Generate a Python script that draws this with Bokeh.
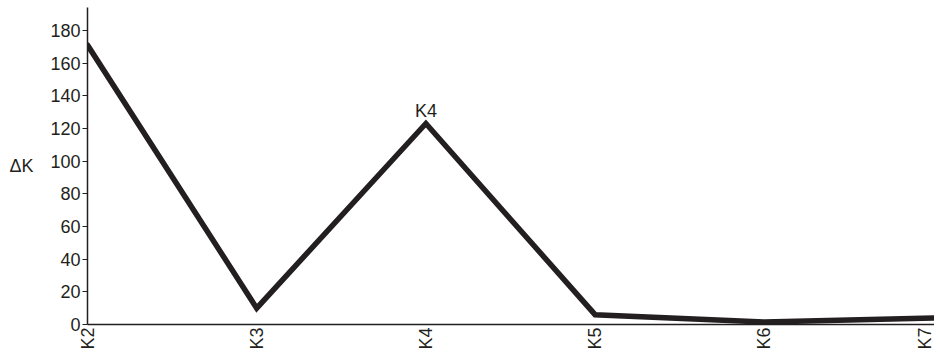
import math
from bokeh.plotting import figure
from bokeh.models import FixedTicker, Label, Range1d
from bokeh.embed import file_html
from bokeh.resources import INLINE

categories = ["K2", "K3", "K4", "K5", "K6", "K7"]
delta_k = [171, 10, 123, 6, 1.5, 4]
y_ticks = [0, 20, 40, 60, 80, 100, 120, 140, 160, 180]

INK = "#231f20"
FONT = "Liberation Sans"
FS = "18px"

xs = list(range(len(categories)))

p = figure(width=934, height=352, output_backend="svg", toolbar_location=None,
           x_range=Range1d(0, len(categories) - 1 + 0.006), y_range=Range1d(0, 194),
           min_border_left=87, min_border_right=0, min_border_top=7, min_border_bottom=27)
p.outline_line_color = None
p.grid.visible = False
p.background_fill_color = "white"
p.border_fill_color = "white"

p.line(xs, delta_k, line_color=INK, line_width=5.5, line_join="miter", line_cap="round")

# x axis
xa = p.xaxis[0]
xa.ticker = FixedTicker(ticks=xs)
xa.major_label_overrides = {i: c for i, c in enumerate(categories)}
xa.major_label_orientation = math.pi / 2
xa.major_tick_out = 0
xa.major_tick_in = 0
xa.minor_tick_out = 0
xa.minor_tick_in = 0
xa.major_label_standoff = 3
xa.axis_line_color = INK
xa.axis_line_width = 1.5
xa.major_label_text_font = FONT
xa.major_label_text_font_size = FS
xa.major_label_text_color = INK

# y axis
ya = p.yaxis[0]
ya.ticker = FixedTicker(ticks=y_ticks)
ya.major_tick_out = 5
ya.major_tick_in = 0
ya.minor_tick_out = 0
ya.minor_tick_in = 0
ya.major_label_standoff = 2
ya.axis_line_color = INK
ya.axis_line_width = 1.5
ya.major_tick_line_color = INK
ya.major_label_text_font = FONT
ya.major_label_text_font_size = FS
ya.major_label_text_color = INK

# y axis title, horizontal
ya.axis_label = "ΔK"
ya.axis_label_text_font = FONT
ya.axis_label_text_font_size = FS
ya.axis_label_text_font_style = "normal"
ya.axis_label_text_color = INK
ya.axis_label_standoff = 14
try:
    ya.axis_label_orientation = "horizontal"
except Exception:
    pass

# annotation at the K4 peak
peak = categories.index("K4")
p.add_layout(Label(x=xs[peak], y=delta_k[peak], y_offset=13, text="K4",
                   text_align="center", text_baseline="alphabetic",
                   text_font=FONT, text_font_size=FS, text_color=INK))

open("out.html", "w").write(file_html(p, INLINE))
